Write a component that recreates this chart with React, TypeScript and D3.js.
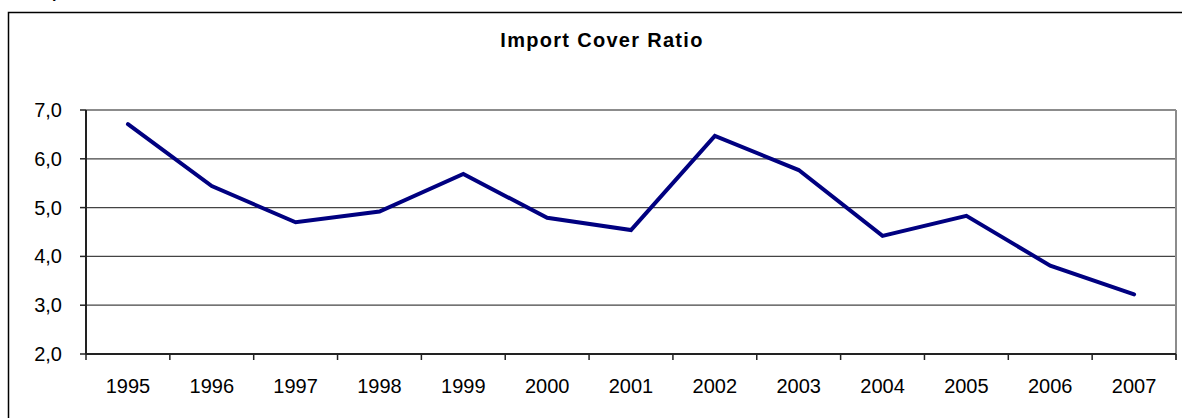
import React from "react";
import * as d3 from "d3";

const years = ["1995", "1996", "1997", "1998", "1999", "2000", "2001", "2002", "2003", "2004", "2005", "2006", "2007"];
const ratio = [6.71, 5.44, 4.70, 4.92, 5.69, 4.79, 4.54, 6.47, 5.77, 4.42, 4.83, 3.81, 3.22];
const yTicks = [2, 3, 4, 5, 6, 7];
const title = "Import Cover Ratio";

const W = 1182;
const H = 418;
const plot = { left: 86, right: 1176, top: 110, bottom: 354 };
const font = "'Liberation Sans', Arial, Helvetica, sans-serif";

export default function App() {
  const x = d3.scaleBand<string>().domain(years).range([plot.left, plot.right]).padding(0);
  const y = d3.scaleLinear().domain([2, 7]).range([plot.bottom, plot.top]);
  const cx = (d: string) => (x(d) as number) + x.bandwidth() / 2;

  const line = d3
    .line<number>()
    .x((_, i) => cx(years[i]))
    .y((v) => y(v));

  const boundaries = years.map((d) => x(d) as number).concat([plot.right]);

  return (
    <svg
      width={W}
      height={H}
      style={{ position: "absolute", left: 0, top: 0, background: "#fff" }}
      fontFamily={font}
    >
      {/* clipped heading fragment above the chart frame */}
      <text x={52} y={-2} fontSize={16} fontWeight="bold" fill="#000">p</text>

      {/* chart frame */}
      <rect x={8.5} y={12.5} width={1190} height={420} fill="#fff" stroke="#000" strokeWidth={1.5} />

      <text
        x={602}
        y={47}
        textAnchor="middle"
        fontSize={20}
        fontWeight="bold"
        letterSpacing={1.3}
        fill="#000"
      >
        {title}
      </text>

      {/* horizontal gridlines */}
      {yTicks
        .filter((t) => t > 2 && t < 7)
        .map((t) => (
          <line key={t} x1={plot.left} x2={plot.right} y1={y(t)} y2={y(t)} stroke="#444" strokeWidth={1.3} />
        ))}

      {/* plot area border (top and right) */}
      <line x1={plot.left} x2={plot.right} y1={y(7)} y2={y(7)} stroke="#8c8c8c" strokeWidth={2} />
      <line x1={plot.right} x2={plot.right} y1={plot.top} y2={plot.bottom + 6} stroke="#8c8c8c" strokeWidth={2} />

      {/* y axis */}
      <line x1={plot.left} x2={plot.left} y1={plot.top} y2={plot.bottom} stroke="#222" strokeWidth={2} />
      {yTicks.map((t) => (
        <g key={t}>
          <line x1={plot.left - 6} x2={plot.left} y1={y(t)} y2={y(t)} stroke="#222" strokeWidth={1.5} />
          <text x={62} y={y(t) + 7} textAnchor="end" fontSize={20} fill="#000">
            {t.toFixed(1).replace(".", ",")}
          </text>
        </g>
      ))}

      {/* x axis */}
      <line x1={plot.left} x2={plot.right} y1={plot.bottom} y2={plot.bottom} stroke="#222" strokeWidth={2} />
      {boundaries.map((b, i) => (
        <line key={i} x1={b} x2={b} y1={plot.bottom} y2={plot.bottom + 6} stroke="#222" strokeWidth={1.5} />
      ))}
      {years.map((d) => (
        <text key={d} x={cx(d)} y={392.5} textAnchor="middle" fontSize={20} fill="#000">
          {d}
        </text>
      ))}

      {/* series */}
      <path d={line(ratio) || ""} fill="none" stroke="#000080" strokeWidth={4} strokeLinejoin="miter" strokeLinecap="round" />
    </svg>
  );
}
